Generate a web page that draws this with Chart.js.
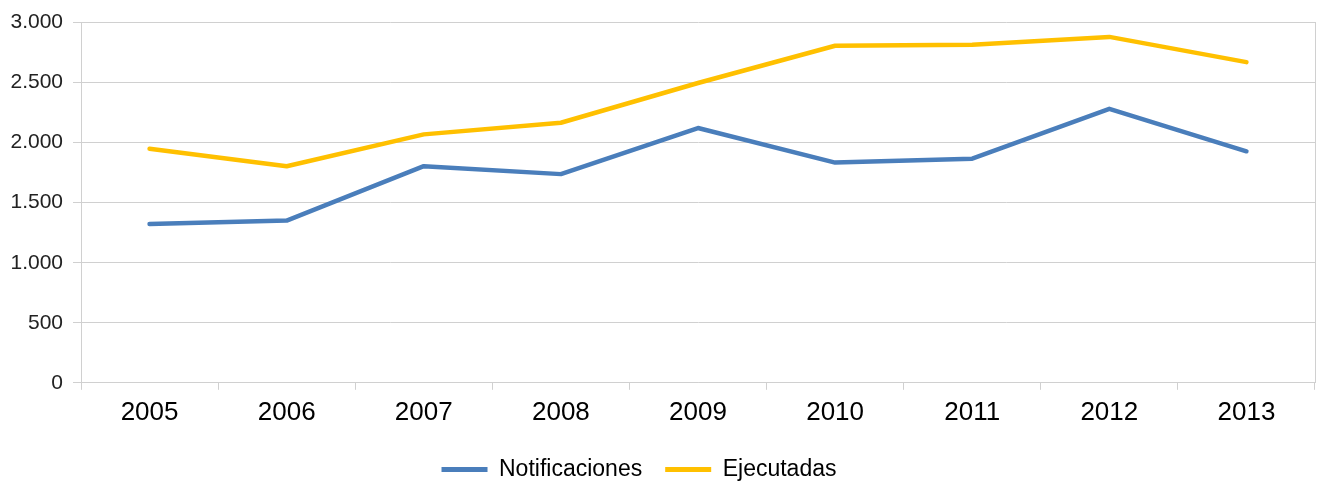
<!DOCTYPE html>
<html>
<head>
<meta charset="utf-8">
<script src="https://cdn.jsdelivr.net/npm/chart.js@4/dist/chart.umd.min.js"></script>
<style>
  html, body { margin: 0; padding: 0; background: #fff; }
  #wrap { width: 1318px; height: 481px; position: relative; }
</style>
</head>
<body>
<div id="wrap"><canvas id="lineChart"></canvas></div>
<script>
const years = ['2005', '2006', '2007', '2008', '2009', '2010', '2011', '2012', '2013'];
const notificaciones = [1323, 1351, 1804, 1738, 2122, 1834, 1867, 2282, 1928];
const ejecutadas = [1950, 1804, 2069, 2166, 2497, 2807, 2815, 2881, 2671];
const yTicks = [0, 500, 1000, 1500, 2000, 2500, 3000];

const gridColor = '#d0d0d0';
const fmt = v => v.toLocaleString('de-DE');

const baseLabels = Chart.defaults.plugins.legend.labels.generateLabels;

// legend sits a bit left of centre in the original
const legendShift = {
  id: 'legendShift',
  afterLayout(chart) {
    const lg = chart.legend;
    if (!lg) return;
    lg.left -= 20;
    lg.right -= 20;
  }
};

new Chart(document.getElementById('lineChart'), {
  type: 'line',
  data: {
    labels: years,
    datasets: [
      { label: 'Notificaciones', data: notificaciones, borderColor: '#4a7ebb', backgroundColor: '#4a7ebb' },
      { label: 'Ejecutadas', data: ejecutadas, borderColor: '#ffc000', backgroundColor: '#ffc000' }
    ]
  },
  plugins: [legendShift],
  options: {
    responsive: true,
    maintainAspectRatio: false,
    animation: false,
    layout: { padding: { top: 7, left: 0, right: 0, bottom: -10 } },
    elements: {
      line: { borderWidth: 4.5, tension: 0, borderCapStyle: 'round', borderJoinStyle: 'round' },
      point: { radius: 0, hoverRadius: 0 }
    },
    scales: {
      x: {
        offset: true,
        grid: { offset: true, drawOnChartArea: false, drawTicks: true, tickLength: 7, color: gridColor },
        border: { color: gridColor },
        ticks: { color: '#000', padding: 7, font: { family: 'Liberation Sans', size: 26 } }
      },
      y: {
        min: 0,
        max: 3000,
        afterFit: s => { s.width = 81; },
        afterBuildTicks: s => { s.ticks = yTicks.map(v => ({ value: v })); },
        grid: { color: gridColor, tickLength: 8 },
        border: { color: gridColor },
        ticks: { color: '#222', padding: 10, font: { family: 'Liberation Sans', size: 21 }, callback: v => fmt(v) }
      },
      yRight: {
        position: 'right',
        min: 0,
        max: 3000,
        afterFit: s => { s.width = 3; },
        grid: { display: false },
        border: { display: true, color: gridColor },
        ticks: { display: false }
      }
    },
    plugins: {
      tooltip: { enabled: false },
      legend: {
        position: 'bottom',
        labels: {
          color: '#000',
          boxWidth: 46,
          boxHeight: 5,
          padding: 23,
          font: { family: 'Liberation Sans', size: 23 },
          generateLabels: c => baseLabels(c).map(l => ({ ...l, lineWidth: 0, fillStyle: l.strokeStyle }))
        }
      }
    }
  }
});
</script>
</body>
</html>
